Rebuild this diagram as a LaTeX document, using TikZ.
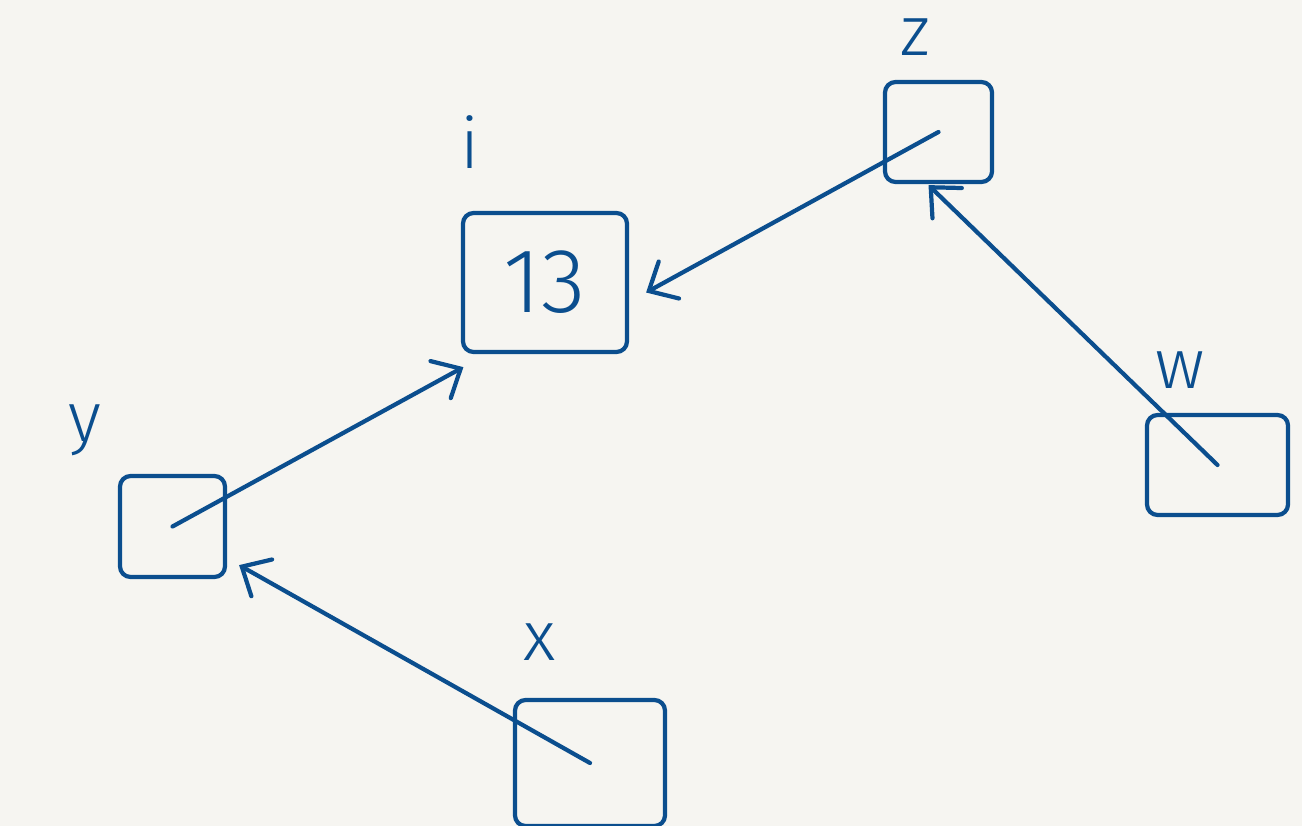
\documentclass[tikz,border=0pt]{standalone}
\usepackage{fontspec}
\setsansfont{Fira Sans Light}
\usetikzlibrary{positioning}
\usetikzlibrary{calc}
\usetikzlibrary{arrows.meta}
\definecolor{ink}{HTML}{0B4E8E}
\definecolor{paper}{HTML}{F6F5F1}
\tikzset{
  cell/.style={draw=ink, line width=2.4pt, rounded corners=6pt, inner sep=0pt},
  varlabel/.style={text=ink, font=\sffamily\fontsize{40}{44}\selectfont},
  ptr/.style={draw=ink, line width=2.4pt, line cap=round, -{Straight Barb[length=13pt,width=24pt,line width=2.4pt,line cap=round]}}
}
\begin{document}
\begin{tikzpicture}
\fill[paper] (0,0) rectangle (26.04,-16.52);
\useasboundingbox (0,0) rectangle (26.04,-16.52);

\node[cell, minimum width=3.28cm, minimum height=2.78cm, text=ink, font=\sffamily\fontsize{52}{56}\selectfont](i) at (10.9,-5.65){13};
\node[cell, minimum width=2.14cm, minimum height=2cm](z) at (18.77,-2.64){};
\node[cell, minimum width=2.82cm, minimum height=2cm](w) at (24.35,-9.3){};
\node[cell, minimum width=2.1cm, minimum height=2.02cm](y) at (3.45,-10.53){};
\node[cell, minimum width=3cm, minimum height=2.52cm](x) at (11.8,-15.26){};

\node[varlabel](ilabel) at (9.4,-2.85){i};
\node[varlabel](zlabel) at (18.3,-0.75){z};
\node[varlabel](wlabel) at (23.6,-7.4){w};
\node[varlabel](ylabel) at (1.7,-8.6){y};
\node[varlabel](xlabel) at (10.8,-12.85){x};

\coordinate(iin) at ($(i.east)+(0.34,-0.2)$);
\coordinate(iout) at ($(i.south west)+(0.05,-0.26)$);
\coordinate(zin) at ($(z.south)+(-0.2,-0.02)$);
\coordinate(yin) at ($(y.south east)+(0.24,0.28)$);

\path
(z.center) edge[ptr] (iin)
(w.center) edge[ptr] (zin)
(y.center) edge[ptr] (iout)
(x.center) edge[ptr] (yin);
\end{tikzpicture}
\end{document}
